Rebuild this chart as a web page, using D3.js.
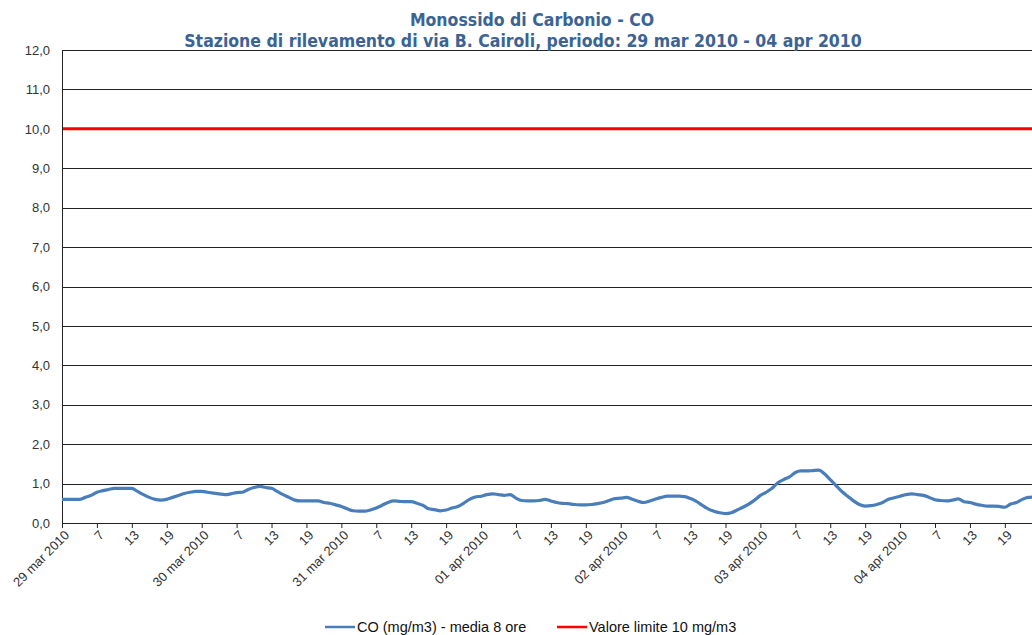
<!DOCTYPE html>
<html>
<head>
<meta charset="utf-8">
<script src="https://cdn.jsdelivr.net/npm/d3@7"></script>
<style>
  body { margin: 0; background: #fff; }
  svg { display: block; }
  .tick text { font-family: "Liberation Sans", Arial, sans-serif; font-size: 13px; fill: #333; }
</style>
</head>
<body>
<div id="chart"></div>
<script>
// days shown, hourly readings 1..24 for each
var days = ["29 mar 2010", "30 mar 2010", "31 mar 2010", "01 apr 2010",
            "02 apr 2010", "03 apr 2010", "04 apr 2010"];
var hourLabels = ["7", "13", "19"];
var yTicks = [0,1,2,3,4,5,6,7,8,9,10,11,12];
var limitValue = 10;

// CO (mg/m3) - media 8 ore, one value per hour
var coValues = [
  0.60,0.60,0.60,0.60,0.65,0.70,0.78,0.82,0.85,0.88,0.88,0.88,0.88,0.80,0.72,0.65,0.60,0.58,0.60,0.65,0.70,0.75,0.78,0.80,
  0.80,0.78,0.76,0.74,0.72,0.74,0.77,0.78,0.85,0.90,0.93,0.90,0.88,0.80,0.72,0.65,0.58,0.56,0.56,0.56,0.56,0.52,0.50,0.46,
  0.42,0.36,0.31,0.30,0.30,0.33,0.38,0.45,0.52,0.56,0.55,0.54,0.54,0.50,0.45,0.36,0.34,0.31,0.33,0.38,0.42,0.50,0.60,0.66,
  0.68,0.72,0.74,0.72,0.70,0.72,0.63,0.57,0.56,0.56,0.57,0.60,0.56,0.52,0.50,0.49,0.47,0.46,0.46,0.47,0.49,0.52,0.57,0.62,
  0.63,0.65,0.60,0.55,0.52,0.56,0.61,0.65,0.68,0.68,0.68,0.67,0.62,0.55,0.45,0.36,0.30,0.26,0.24,0.26,0.33,0.40,0.48,0.58,
  0.70,0.78,0.88,1.02,1.10,1.17,1.28,1.32,1.32,1.33,1.34,1.25,1.10,0.95,0.80,0.68,0.56,0.47,0.43,0.44,0.47,0.52,0.60,0.64,
  0.68,0.72,0.74,0.72,0.70,0.65,0.59,0.57,0.56,0.58,0.61,0.54,0.52,0.48,0.45,0.43,0.43,0.42,0.40,0.48,0.52,0.60,0.65,0.66
];

var W = 1032, H = 635;
var margin = {top: 50, left: 62, bottom: 112};
var hourStep = 5.82;
var plotH = H - margin.top - margin.bottom;

var svg = d3.select("#chart").append("svg")
  .attr("width", W).attr("height", H);

var x = d3.scaleLinear()
  .domain([0, coValues.length])
  .range([margin.left, margin.left + coValues.length * hourStep]);
var y = d3.scaleLinear().domain([0, 12]).range([margin.top + plotH, margin.top]);

// gridlines
svg.append("g").selectAll("line")
  .data(yTicks.filter(function(d){ return d > 0; }))
  .enter().append("line")
  .attr("x1", margin.left).attr("x2", W)
  .attr("y1", function(d){ return Math.round(y(d)) + 0.5; })
  .attr("y2", function(d){ return Math.round(y(d)) + 0.5; })
  .attr("stroke", "#222").attr("stroke-width", 1);

// y axis
var yAxis = svg.append("g")
  .attr("transform", "translate(" + margin.left + ",0)")
  .call(d3.axisLeft(y).tickValues(yTicks).tickSize(0).tickPadding(12)
    .tickFormat(function(d){ return d3.format(".1f")(d).replace(".", ","); }));
yAxis.select(".domain").attr("stroke", "#222");

// x axis, category ticks every 6 hours
var tickIdx = d3.range(0, coValues.length, 6);
var xAxis = svg.append("g")
  .attr("transform", "translate(0," + (margin.top + plotH) + ")")
  .call(d3.axisBottom(x).tickValues(tickIdx).tickSize(5)
    .tickFormat(function(i){
      var h = i % 24;
      return h === 0 ? days[i / 24] : hourLabels[h / 6 - 1];
    }));
xAxis.select(".domain").attr("d", "M" + margin.left + ",0.5H" + W).attr("stroke", "#222");
xAxis.selectAll(".tick line").attr("stroke", "#222");
xAxis.selectAll(".tick text")
  .attr("text-anchor", "end")
  .attr("dx", "-0.3em").attr("dy", "0.5em")
  .attr("transform", "rotate(-45)");

// limit line
svg.append("line")
  .attr("x1", margin.left + 1).attr("x2", W)
  .attr("y1", y(limitValue)).attr("y2", y(limitValue))
  .attr("stroke", "#ff0000").attr("stroke-width", 3);

// CO series
var line = d3.line()
  .x(function(d, i){ return x(i); })
  .y(function(d){ return y(d); })
  .curve(d3.curveMonotoneX);
svg.append("path")
  .datum(coValues)
  .attr("d", line)
  .attr("fill", "none")
  .attr("stroke", "#4a7ebb")
  .attr("stroke-width", 3.2)
  .attr("stroke-linejoin", "round");

// title
var title = svg.append("g")
  .attr("font-family", "Tahoma, 'DejaVu Sans Condensed', sans-serif")
  .attr("font-weight", "bold")
  .attr("font-size", 17.5)
  .attr("fill", "#3b6394")
  .attr("text-anchor", "middle");
title.append("text").attr("x", 532).attr("y", 26).text("Monossido di Carbonio - CO");
title.append("text").attr("x", 523).attr("y", 47)
  .text("Stazione di rilevamento di via B. Cairoli, periodo: 29 mar 2010 - 04 apr 2010");

// legend
var legendItems = [
  {name: "CO (mg/m3) - media 8 ore", color: "#4a7ebb", x: 325},
  {name: "Valore limite 10 mg/m3", color: "#ff0000", x: 557}
];
var lg = svg.append("g").attr("transform", "translate(0,627)");
legendItems.forEach(function(d){
  lg.append("line").attr("x1", d.x).attr("x2", d.x + 30)
    .attr("y1", 0).attr("y2", 0)
    .attr("stroke", d.color).attr("stroke-width", 2.5);
  lg.append("text").attr("x", d.x + 32).attr("y", 5)
    .attr("font-family", "'Liberation Sans', Arial, sans-serif")
    .attr("font-size", 14.5).attr("fill", "#111")
    .text(d.name);
});
</script>
</body>
</html>
